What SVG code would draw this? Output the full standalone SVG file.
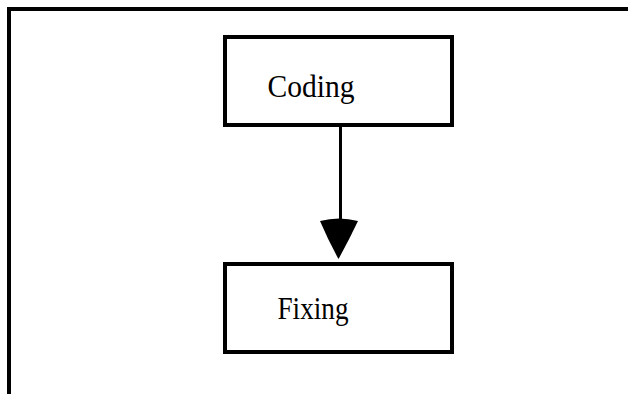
<svg xmlns="http://www.w3.org/2000/svg" width="628" height="394" viewBox="0 0 628 394">
<style>
.box{fill:#fff;stroke:#000;stroke-width:4}
.lbl{font-family:"Liberation Serif","Times New Roman",serif;font-size:31px;fill:#000}
.edge{stroke:#000;stroke-width:3;fill:none}
</style>
<rect width="628" height="394" fill="#fff"/>
<path d="M9,400 V9 H640" fill="none" stroke="#000" stroke-width="4"/>
<g id="connectors">
<line class="edge" x1="340.5" y1="127" x2="340.5" y2="222"/>
<path d="M320,221 Q339,216 358,221 Q348,242 338.5,259 Q329,242 320,221 Z" fill="#000"/>
</g>
<g id="node-coding">
<rect class="box" x="225" y="37" width="227" height="88"/>
<text class="lbl" x="267.5" y="96.5" textLength="87" lengthAdjust="spacingAndGlyphs">Coding</text>
</g>
<g id="node-fixing">
<rect class="box" x="225" y="264" width="227" height="88"/>
<text class="lbl" x="277.5" y="318.5" textLength="71" lengthAdjust="spacingAndGlyphs">Fixing</text>
</g>
</svg>
